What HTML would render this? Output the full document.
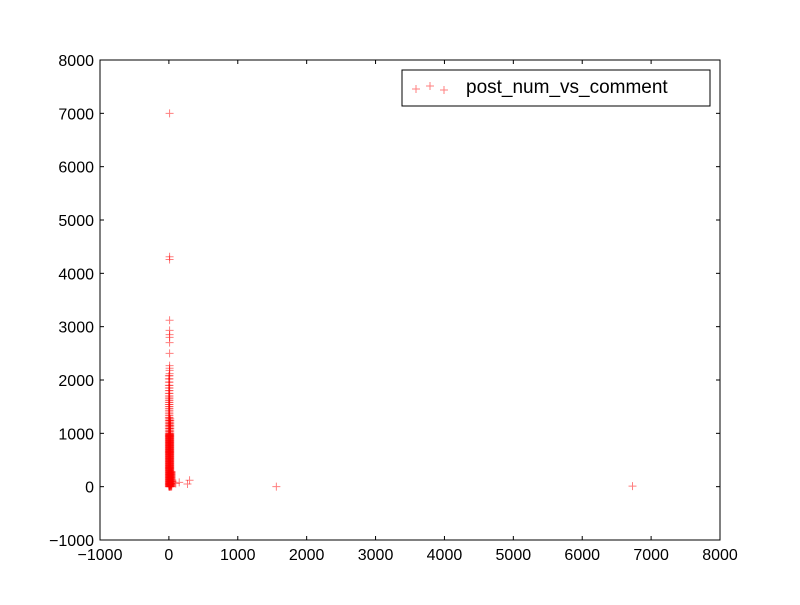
<!DOCTYPE html>
<html><head><meta charset="utf-8"><style>
body{margin:0;background:#fff;}
svg text{font-family:"Liberation Sans",sans-serif;font-size:16px;}
</style></head><body>
<svg id="chart" width="800" height="600">
<rect x="0" y="0" width="800" height="600" fill="#fff"/>
<g id="marks"></g>
<rect x="100" y="60" width="620" height="480" fill="none" stroke="#000" stroke-width="1"/>
<g id="axes"></g>
<g>
<rect x="402" y="70" width="308" height="36" fill="#fff" stroke="#000"/>
<g id="legendmarks"></g>
<text x="466" y="93" style="font-size:19px">post_num_vs_comment</text>
</g>
</svg>
<script>
const xTicks=[-1000,0,1000,2000,3000,4000,5000,6000,7000,8000];
const yTicks=[-1000,0,1000,2000,3000,4000,5000,6000,7000,8000];
const outlierX=[10,10,10,10,10,10,10,10,10,10,10,10,10,50,100,150,270,300,1560,6730];
const outlierY=[7000,4310,4260,3120,2930,2850,2800,2700,2500,2270,2220,2180,2120,100,60,80,50,120,0,10];
const denseY=[2080,2020,1960,1900,1850,1800,1750,1700,1660,1620,1580,1540,1500,1460,1420,1380,1340,1300,1270,1240,1210,1180,1150,1120,1090,1060,1030,1000,980,960,940,920,900,880,860,840,820,800,780,760,740,720,700,680,660,640,620,600,580,560,540,520,500,480,460,440,420,400,380,360,340,320,300,280,260,240,220,200,180,160,140,120,100,80,60,40,20,0];
const denseX=[0,10,20,5,15,30,40];
const sx=v=>100+(v+1000)*620/9000;
const sy=v=>540-(v+1000)*480/9000;
const NS="http://www.w3.org/2000/svg";
const marks=document.getElementById('marks');
function plus(g,x,y){
 const p=document.createElementNS(NS,'path');
 p.setAttribute('d',`M${x-4},${y}H${x+4}M${x},${y-4}V${y+4}`);
 p.setAttribute('stroke','rgba(255,0,0,0.5)');p.setAttribute('stroke-width','1');
 
 
 g.appendChild(p);
}
outlierX.forEach((x,i)=>plus(marks,sx(x),sy(outlierY[i])));
denseY.forEach((y,i)=>{const n=y<300?7:(y<1000?5:(y<1300?3:2));for(let k=0;k<n;k++)plus(marks,sx(denseX[k]),sy(y));});
[416,430,444].forEach((x,i)=>plus(document.getElementById('legendmarks'),x,[89,86,90][i]));
const ax=document.getElementById('axes');
function t(x,y,s,a,name){const e=document.createElementNS(NS,'text');e.setAttribute('x',x);e.setAttribute('y',y);e.setAttribute('text-anchor',a);e.textContent=s;


ax.appendChild(e);}
function l(x1,y1,x2,y2){const e=document.createElementNS(NS,'line');e.setAttribute('x1',x1);e.setAttribute('y1',y1);e.setAttribute('x2',x2);e.setAttribute('y2',y2);e.setAttribute('stroke','#000');


ax.appendChild(e);}
const lab=v=>v<0?'\u2212'+Math.abs(v):String(v);
xTicks.forEach(v=>{const x=sx(v);l(x,540,x,536);l(x,60,x,64);t(x,560,lab(v),'middle','x-tick-label');});
yTicks.forEach(v=>{const y=sy(v);l(100,y,104,y);l(720,y,716,y);t(94,y+6,lab(v),'end','y-tick-label');});
</script>
</body></html>
